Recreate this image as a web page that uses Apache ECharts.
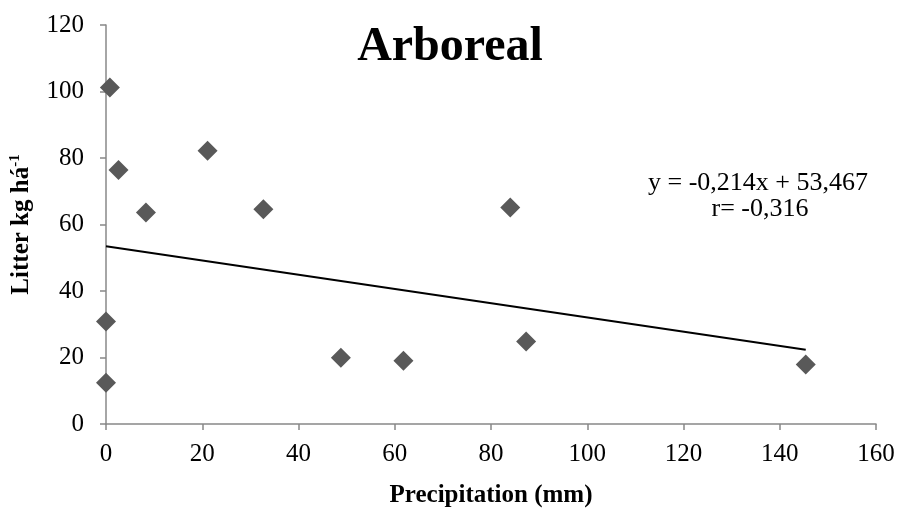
<!DOCTYPE html>
<html>
<head>
<meta charset="utf-8">
<script src="https://cdn.jsdelivr.net/npm/echarts@6/dist/echarts.min.js"></script>
<style>
  html, body { margin: 0; padding: 0; background: #fff; }
  #chart { width: 900px; height: 513px; }
</style>
</head>
<body>
<div id="chart"></div>
<script>
// Observed points (precipitation mm, litter kg/ha)
const precip = [0.8, 2.6, 8.3, 21.1, 32.7, 0, 0, 48.8, 61.8, 84.0, 87.3, 145.4];
const litter = [101.2, 76.4, 63.6, 82.2, 64.6, 30.8, 12.4, 19.9, 19.0, 65.1, 24.8, 17.9];

// Linear trend as printed on the chart
const slope = -0.214;
const intercept = 53.467;
const trendX = [0, 145.4];

const equationText = "y = -0,214x + 53,467";
const rText = "r= -0,316";

const font = "'Liberation Serif', 'Times New Roman', serif";

function init() {
  const chart = echarts.init(document.getElementById("chart"));

  const points = precip.map((x, i) => [x, litter[i]]);
  const trend = trendX.map((x) => [x, slope * x + intercept]);

  const option = {
    animation: false,
    textStyle: { fontFamily: font },
    title: {
      text: "Arboreal",
      left: "center",
      top: 19,
      textStyle: { fontFamily: font, fontSize: 48, fontWeight: "bold", color: "#000" },
    },
    grid: { left: 106, right: 24, top: 25, bottom: 83 },
    xAxis: {
      type: "value",
      min: 0,
      max: 160,
      interval: 20,
      name: "Precipitation (mm)",
      nameLocation: "middle",
      nameGap: 59,
      nameTextStyle: { fontFamily: font, fontSize: 25, fontWeight: "bold", color: "#000" },
      axisLine: { show: true, lineStyle: { color: "#888", width: 1.5 } },
      axisTick: { show: true, length: 6, lineStyle: { color: "#888", width: 1.5 } },
      axisLabel: { fontFamily: font, fontSize: 25, color: "#000", margin: 18 },
      splitLine: { show: false },
    },
    yAxis: {
      type: "value",
      min: 0,
      max: 120,
      interval: 20,
      name: "{a|Litter kg há}{b|-1}",
      nameLocation: "middle",
      nameGap: 71,
      nameTextStyle: {
        rich: {
          a: { fontFamily: font, fontSize: 25, fontWeight: "bold", color: "#000" },
          b: { fontFamily: font, fontSize: 15, fontWeight: "bold", color: "#000", padding: [0, 0, 12, 0] },
        },
      },
      axisLine: { show: true, lineStyle: { color: "#888", width: 1.5 } },
      axisTick: { show: true, length: 6, lineStyle: { color: "#888", width: 1.5 } },
      axisLabel: { fontFamily: font, fontSize: 25, color: "#000", margin: 22 },
      splitLine: { show: false },
    },
    series: [
      {
        type: "line",
        data: trend,
        showSymbol: false,
        lineStyle: { color: "#000", width: 2 },
        z: 1,
      },
      {
        type: "scatter",
        data: points,
        symbol: "diamond",
        symbolSize: 20,
        itemStyle: { color: "#595959", opacity: 1 },
        z: 2,
      },
    ],
    graphic: [
      {
        type: "text",
        x: 758,
        y: 183,
        style: { text: equationText, font: "26px " + font, fill: "#000", align: "center", verticalAlign: "middle" },
      },
      {
        type: "text",
        x: 760,
        y: 209,
        style: { text: rText, font: "26px " + font, fill: "#000", align: "center", verticalAlign: "middle" },
      },
    ],
  };

  chart.setOption(option);
}

document.addEventListener("DOMContentLoaded", init);
</script>
</body>
</html>
